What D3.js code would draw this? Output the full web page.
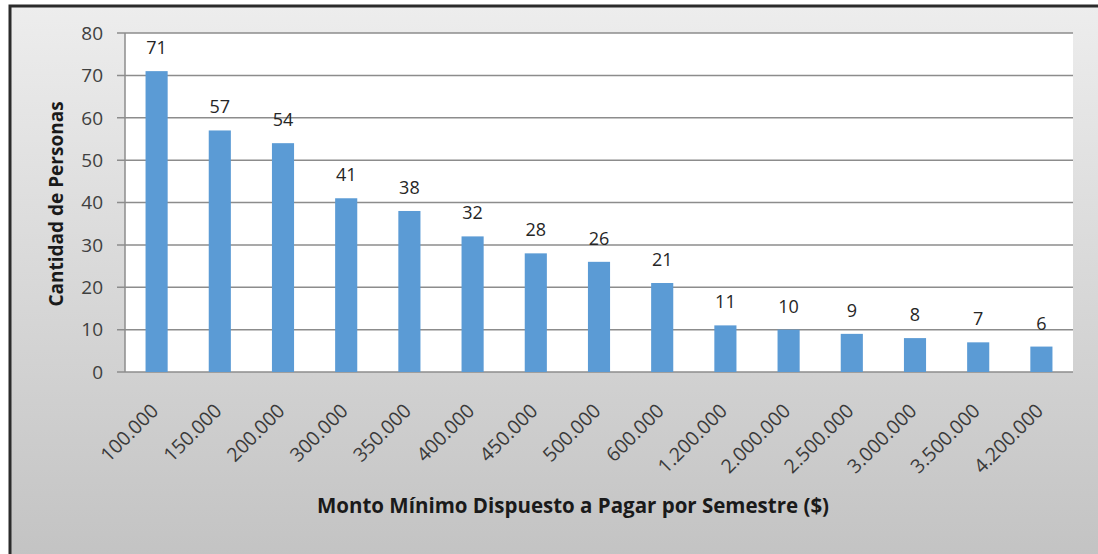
<!DOCTYPE html>
<meta charset="utf-8">
<script src="https://d3js.org/d3.v7.min.js"></script>
<style>
  body { margin: 0; background: #fff; }
  text { font-family: "Open Sans", "Noto Sans", sans-serif; }
</style>
<div id="my_dataviz"></div>
<script>
  // data
  var categories = ["100.000", "150.000", "200.000", "300.000", "350.000", "400.000", "450.000",
    "500.000", "600.000", "1.200.000", "2.000.000", "2.500.000", "3.000.000", "3.500.000", "4.200.000"];
  var personas = [71, 57, 54, 41, 38, 32, 28, 26, 21, 11, 10, 9, 8, 7, 6];
  var yTicks = [0, 10, 20, 30, 40, 50, 60, 70, 80];

  var W = 1098, H = 554;
  var plot = {left: 125, right: 1073, top: 33, bottom: 372};

  var svg = d3.select("#my_dataviz")
    .append("svg")
      .attr("width", W)
      .attr("height", H);

  // gray gradient background
  var grad = svg.append("defs").append("linearGradient")
      .attr("id", "bg").attr("x1", 0).attr("y1", 0).attr("x2", 0).attr("y2", 1);
  grad.append("stop").attr("offset", "0%").attr("stop-color", "#ededed");
  grad.append("stop").attr("offset", "100%").attr("stop-color", "#c3c3c3");

  svg.append("rect")
    .attr("x", 10).attr("y", 6)
    .attr("width", W).attr("height", H)
    .attr("fill", "url(#bg)")
    .attr("stroke", "#2b2b2b")
    .attr("stroke-width", 3);

  var x = d3.scaleBand()
    .domain(categories)
    .range([plot.left, plot.right])
    .paddingInner(0.65)
    .paddingOuter(0.325);

  var y = d3.scaleLinear()
    .domain([0, 80])
    .range([plot.bottom, plot.top]);

  // plot area
  svg.append("rect")
    .attr("x", plot.left).attr("y", plot.top)
    .attr("width", plot.right - plot.left)
    .attr("height", plot.bottom - plot.top)
    .attr("fill", "#fff");

  // gridlines + left ticks
  svg.append("g")
    .selectAll("line")
    .data(yTicks)
    .join("line")
      .attr("x1", plot.left - 8)
      .attr("x2", plot.right)
      .attr("y1", function(d){ return y(d) })
      .attr("y2", function(d){ return y(d) })
      .attr("stroke", "#8c8c8c")
      .attr("stroke-width", 1.5);

  // y axis line
  svg.append("line")
    .attr("x1", plot.left).attr("x2", plot.left)
    .attr("y1", plot.top).attr("y2", plot.bottom)
    .attr("stroke", "#8c8c8c")
    .attr("stroke-width", 1.5);

  // y tick labels
  svg.append("g")
    .selectAll("text")
    .data(yTicks)
    .join("text")
      .attr("x", 103)
      .attr("y", function(d){ return y(d) })
      .attr("dy", "0.36em")
      .attr("text-anchor", "end")
      .attr("font-size", 19)
      .attr("fill", "#404040")
      .text(function(d){ return d });

  // bars
  svg.append("g")
    .selectAll("rect")
    .data(personas)
    .join("rect")
      .attr("x", function(d, i){ return x(categories[i]) })
      .attr("y", function(d){ return y(d) })
      .attr("width", x.bandwidth())
      .attr("height", function(d){ return y(0) - y(d) })
      .attr("fill", "#5b9bd5");

  // value labels
  svg.append("g")
    .selectAll("text")
    .data(personas)
    .join("text")
      .attr("x", function(d, i){ return x(categories[i]) + x.bandwidth() / 2 })
      .attr("y", function(d){ return y(d) - 17 })
      .attr("text-anchor", "middle")
      .attr("font-size", 18)
      .attr("fill", "#262626")
      .text(function(d){ return d });

  // x category labels, rotated
  svg.append("g")
    .selectAll("text")
    .data(categories)
    .join("text")
      .attr("transform", function(d){
        return "translate(" + (x(d) + x.bandwidth() / 2 + 3) + "," + (plot.bottom + 40) + ") rotate(-45)";
      })
      .attr("text-anchor", "end")
      .attr("font-size", 19.5)
      .attr("fill", "#3a3a3a")
      .text(function(d){ return d });

  // axis titles
  svg.append("text")
    .attr("transform", "translate(63,204) rotate(-90)")
    .attr("text-anchor", "middle")
    .attr("font-size", 19)
    .attr("font-weight", "bold")
    .attr("fill", "#1a1a1a")
    .text("Cantidad de Personas");

  svg.append("text")
    .attr("x", 573)
    .attr("y", 513)
    .attr("text-anchor", "middle")
    .attr("font-size", 20.5)
    .attr("font-weight", "bold")
    .attr("fill", "#1a1a1a")
    .text("Monto Mínimo Dispuesto a Pagar por Semestre ($)");
</script>
